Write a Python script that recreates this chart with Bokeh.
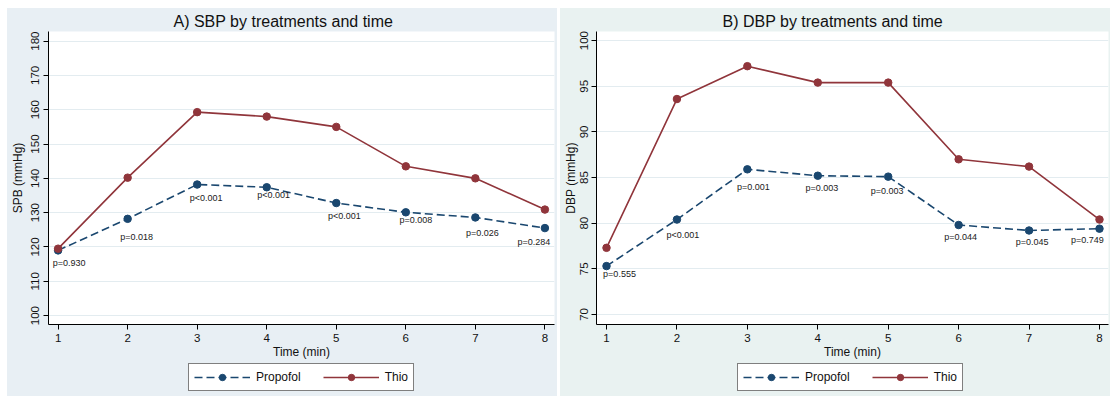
from bokeh.plotting import figure
from bokeh.models import Legend, LegendItem, Range1d, FixedTicker, ColumnDataSource
from bokeh.layouts import row, column
from bokeh.embed import file_html
from bokeh.resources import INLINE
from bokeh.core.properties import value

# ---------------- data ----------------
time_min = [1, 2, 3, 4, 5, 6, 7, 8]

sbp_propofol = [119.0, 128.2, 138.2, 137.4, 132.8, 130.1, 128.6, 125.5]
sbp_thio = [119.5, 140.2, 159.3, 158.0, 155.0, 143.5, 140.0, 130.9]
sbp_pvalues = ["p=0.930", "p=0.018", "p<0.001", "p<0.001", "p<0.001",
               "p=0.008", "p=0.026", "p=0.284"]

dbp_propofol = [75.3, 80.4, 85.9, 85.2, 85.1, 79.8, 79.2, 79.4]
dbp_thio = [77.3, 93.6, 97.2, 95.4, 95.4, 87.0, 86.2, 80.4]
dbp_pvalues = ["p=0.555", "p<0.001", "p=0.001", "p=0.003", "p=0.003",
               "p=0.044", "p=0.045", "p=0.749"]

sbp_ticks = [100, 110, 120, 130, 140, 150, 160, 170, 180]
dbp_ticks = [70, 75, 80, 85, 90, 95, 100]
series_names = ["Propofol", "Thio"]

# ---------------- styling ----------------
NAVY = "#1A476F"
MAROON = "#90353B"
FONT = "Liberation Sans"
MAIN_H = 354
LEG_H = 34

# pixel offsets of the p-value labels relative to the Propofol markers
sbp_lab_dx = [11, 9, 9, 7, 8, 10, 7, -11]
sbp_lab_dy = [13, 18, 13, 8, 13, 8, 16, 14]
dbp_lab_dx = [13, 6, 6, 4, -1, 2, 3, -12]
dbp_lab_dy = [8, 15, 18, 12, 14, 12, 12, 11]


def style_lines(p, xs, prop, thio):
    lp = p.line(xs, prop, line_color=NAVY, line_width=1.6, line_dash="8 4")
    sp = p.scatter(xs, prop, size=7.5, fill_color=NAVY, line_color=NAVY)
    lt = p.line(xs, thio, line_color=MAROON, line_width=1.6)
    st = p.scatter(xs, thio, size=7.5, fill_color=MAROON, line_color=MAROON)
    return lp, sp, lt, st


def make_panel(title, ylabel, prop, thio, plabels, dx, dy, yticks, yr, xr,
               width, bg, title_offset, mbl, mbr, lab_standoff, axlab_standoff,
               legend_x):
    p = figure(width=width, height=MAIN_H, x_range=Range1d(*xr), y_range=Range1d(*yr),
               output_backend="svg", toolbar_location=None,
               min_border_left=mbl, min_border_right=mbr, min_border_top=22,
               min_border_bottom=MAIN_H - 22 - 294, background_fill_color="white",
               border_fill_color=bg, outline_line_color=None)

    p.title.text = title
    p.title.text_font = FONT
    p.title.text_font_size = "16px"
    p.title.text_font_style = "normal"
    p.title.text_color = "#111111"
    p.title.align = "left"
    p.title.offset = title_offset
    p.title.standoff = 4

    for ax in (p.xaxis, p.yaxis):
        ax.axis_line_color = "#000000"
        ax.major_tick_line_color = "#000000"
        ax.major_tick_out = 5
        ax.major_tick_in = 0
        ax.minor_tick_line_color = None
        ax.major_label_text_font = FONT
        ax.major_label_text_font_size = "11.5px"
        ax.major_label_text_color = "#111111"
        ax.axis_label_text_font = FONT
        ax.axis_label_text_font_size = "12px"
        ax.axis_label_text_font_style = "normal"
        ax.axis_label_text_color = "#111111"

    p.xaxis.major_label_standoff = 4
    p.yaxis.major_label_standoff = lab_standoff
    p.xaxis.ticker = FixedTicker(ticks=time_min)
    p.yaxis.ticker = FixedTicker(ticks=yticks)
    p.xaxis.axis_label = "Time (min)"
    p.yaxis.axis_label = ylabel
    p.xaxis.axis_label_standoff = 0
    p.yaxis.axis_label_standoff = axlab_standoff
    p.yaxis.major_label_orientation = "vertical"

    p.xgrid.grid_line_color = None
    p.ygrid.grid_line_color = "#E3ECF0"
    p.ygrid.grid_line_width = 1

    style_lines(p, time_min, prop, thio)

    src = ColumnDataSource(dict(x=time_min, prop=prop, lab=plabels, dx=dx, dy=dy))
    p.text("x", "prop", text="lab", source=src, x_offset="dx", y_offset="dy",
           text_font=value(FONT), text_font_size="9px", text_align="center",
           text_baseline="middle", text_color="#1a1a1a")

    # legend strip below the panel (transparent; the column supplies the colour);
    # its proxy renderers use the same series but lie outside the visible range
    q = figure(width=width, height=LEG_H, x_range=Range1d(100, 101),
               y_range=Range1d(1000, 1001),
               output_backend="svg", toolbar_location=None,
               x_axis_location=None, y_axis_location=None,
               min_border_left=mbl, min_border_right=mbr, min_border_top=0,
               min_border_bottom=0, background_fill_color=bg,
               background_fill_alpha=0.0, border_fill_color=bg,
               border_fill_alpha=0.0, outline_line_color=None,
               styles={"background-color": bg})
    q.xgrid.visible = False
    q.ygrid.visible = False
    lp, sp, lt, st = style_lines(q, time_min, prop, thio)
    legend = Legend(items=[LegendItem(label=series_names[0], renderers=[lp, sp]),
                           LegendItem(label=series_names[1], renderers=[lt, st])],
                    location=(legend_x, 5), orientation="horizontal")
    legend.border_line_color = "#000000"
    legend.border_line_width = 1
    legend.background_fill_color = "white"
    legend.background_fill_alpha = 1.0
    legend.padding = 5
    legend.spacing = 22
    legend.margin = 0
    legend.glyph_width = 56
    legend.glyph_height = 16
    legend.label_height = 16
    legend.label_standoff = 6
    legend.label_text_font = FONT
    legend.label_text_font_size = "12px"
    legend.label_text_color = "#111111"
    q.add_layout(legend)
    return column(p, q, spacing=0, styles={"background-color": bg})


c1 = make_panel("A) SBP by treatments and time", "SPB (mmHg)", sbp_propofol, sbp_thio,
                sbp_pvalues, sbp_lab_dx, sbp_lab_dy, sbp_ticks, (97.4, 182.8),
                (0.862, 8.138), 550, "#E8EFF4", 125, 41, 3, 4, 4, 140)
c2 = make_panel("B) DBP by treatments and time", "DBP (mmHg)", dbp_propofol, dbp_thio,
                dbp_pvalues, dbp_lab_dx, dbp_lab_dy, dbp_ticks, (68.9, 101.0),
                (0.858, 8.128), 550, "#E9F2F1", 126, 36, 2, 3, 0, 141)

layout = row(c1, c2, spacing=3, margin=(8, 0, 0, 7))
open("out.html", "w").write(file_html(layout, INLINE))
